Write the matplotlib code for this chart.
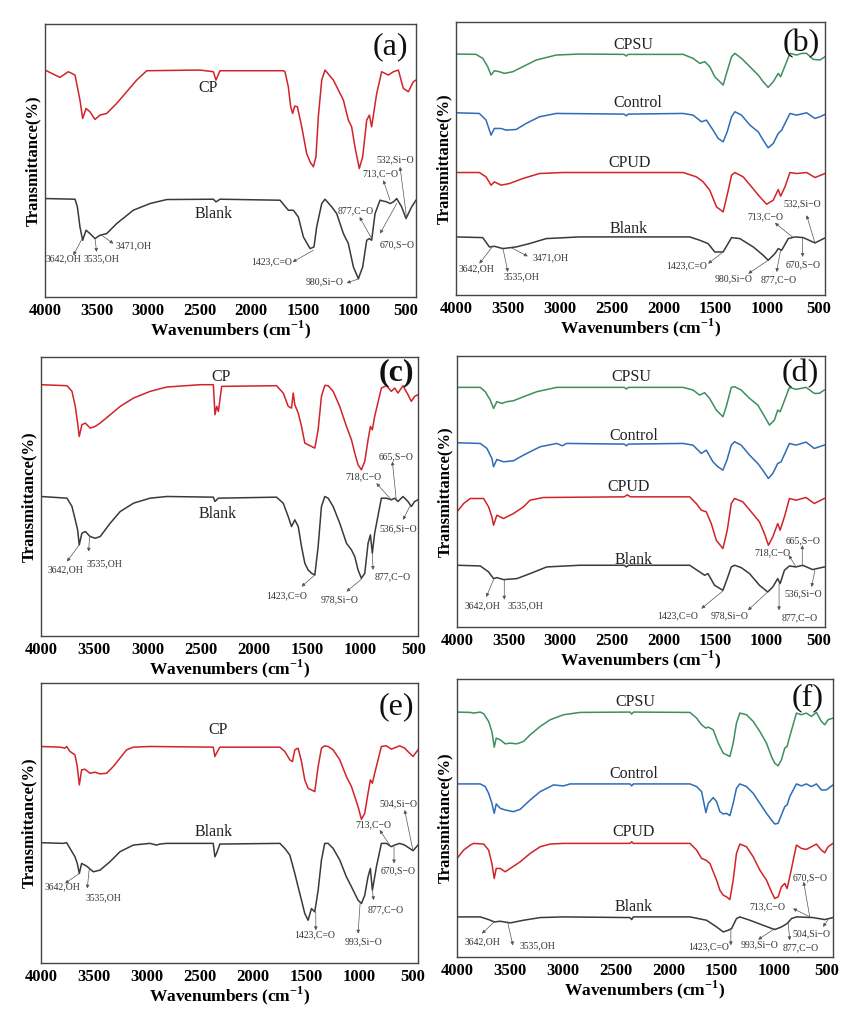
import matplotlib
matplotlib.use('Agg')
import matplotlib.pyplot as plt

plt.rcParams['font.family'] = ['Liberation Serif', 'DejaVu Serif']
plt.rcParams['mathtext.fontset'] = 'custom'
plt.rcParams['mathtext.rm'] = 'Liberation Serif'
plt.rcParams['mathtext.bf'] = 'Liberation Serif:bold'

RED = '#d1232a'
GREEN = '#3d8f5f'
BLUE = '#2e6cb8'
BLACK = '#3a3a3a'

XTICKS = [4000, 3500, 3000, 2500, 2000, 1500, 1000, 500]

# ---------------- (a) ----------------
A_CP = [(4000, 79.0), (3855, 76.8), (3774, 78.5), (3709, 77.5), (3661, 70.0), (3635, 64.5), (3602, 67.5),
        (3564, 66.5), (3515, 64.2), (3467, 65.5), (3402, 66.0), (3305, 69.0), (3208, 72.5), (3111, 76.0),
        (3014, 78.8), (2497, 79.0), (2368, 78.5), (2342, 76.0), (2303, 78.8), (1689, 78.8), (1673, 78.5),
        (1641, 74.0), (1618, 68.0), (1599, 66.0), (1579, 68.2), (1553, 68.0), (1511, 62.0), (1463, 54.0),
        (1430, 51.5), (1398, 50.0), (1373, 53.0), (1350, 65.0), (1317, 76.0), (1285, 79.0), (1204, 76.0),
        (1107, 70.0), (1059, 64.0), (1027, 62.0), (995, 56.0), (953, 49.5), (920, 53.0), (881, 64.0),
        (855, 65.5), (833, 62.0), (784, 72.0), (736, 78.5), (671, 77.5), (622, 78.5), (574, 79.0),
        (526, 73.5), (477, 72.5), (429, 75.5), (403, 76.0)]
A_BLANK = [(4000, 40.5), (3709, 40.3), (3686, 38.0), (3661, 32.0), (3635, 28.0), (3602, 31.0), (3564, 30.0),
           (3515, 28.5), (3467, 29.5), (3402, 30.0), (3305, 33.0), (3144, 37.0), (2982, 39.0), (2820, 40.2),
           (2368, 40.3), (2342, 39.5), (2303, 40.3), (1721, 40.0), (1641, 37.0), (1592, 37.0), (1544, 35.0),
           (1495, 29.0), (1430, 25.5), (1392, 26.0), (1366, 32.0), (1317, 39.0), (1285, 40.3), (1220, 38.0),
           (1172, 36.0), (1107, 30.0), (1059, 27.0), (1010, 20.0), (962, 16.5), (920, 20.0), (881, 28.0),
           (855, 28.5), (833, 28.0), (800, 36.0), (752, 40.0), (687, 39.5), (655, 39.0), (622, 39.5),
           (590, 40.5), (542, 38.0), (500, 34.5), (445, 38.0), (403, 40.0)]
A_NOTES = [('3642,OH', (3816, 22.5), (3645, 28.2), (3725, 23.5)),
           ('3535,OH', (3450, 22.5), (3515, 28.5), (3500, 24.5)),
           ('3471,OH', (3137, 26.3), (3450, 29.5), (3337, 27.0)),
           ('1423,C=O', (1805, 21.7), (1398, 25.0), (1599, 21.5)),
           ('980,Si\u2212O', (1285, 15.5), (952, 16.5), (1075, 15.2)),
           ('877,C\u2212O', (984, 36.8), (833, 28.5), (950, 35.0)),
           ('713,C\u2212O', (752, 48.0), (655, 40.0), (720, 46.0)),
           ('532,Si\u2212O', (606, 52.0), (493, 34.5), (558, 50.0)),
           ('670,S\u2212O', (590, 26.7), (590, 39.0), (752, 30.0))]

# ---------------- (b) ----------------
B_CPSU = [(4000, 83.8), (3807, 83.7), (3742, 82.5), (3694, 80.0), (3662, 77.5), (3630, 78.8), (3581, 78.5),
          (3533, 78.0), (3453, 78.5), (3356, 80.0), (3227, 82.0), (3034, 83.5), (2809, 83.8), (2380, 83.7),
          (2358, 83.2), (2340, 83.7), (1810, 83.7), (1714, 82.5), (1649, 81.0), (1601, 81.5), (1553, 80.0),
          (1505, 77.0), (1456, 75.5), (1424, 74.5), (1392, 78.0), (1343, 83.0), (1311, 84.0), (1247, 82.5),
          (1166, 80.0), (1086, 77.5), (1038, 75.5), (990, 73.8), (941, 75.5), (893, 78.0), (870, 77.0),
          (844, 79.0), (780, 84.0), (716, 83.5), (667, 84.0), (619, 84.0), (555, 82.2), (491, 82.0), (442, 83.0)]
B_CONTROL = [(4000, 66.2), (3775, 66.0), (3710, 64.0), (3662, 59.5), (3630, 61.5), (3565, 61.5), (3517, 61.0),
             (3420, 61.2), (3324, 63.0), (3195, 65.0), (3034, 66.0), (2380, 65.8), (2358, 65.3), (2340, 65.8),
             (1810, 66.0), (1714, 65.5), (1633, 63.5), (1585, 64.0), (1521, 61.0), (1472, 58.5), (1424, 57.5),
             (1385, 60.5), (1343, 65.0), (1311, 66.5), (1247, 65.5), (1166, 62.5), (1086, 60.5), (1038, 58.0),
             (990, 55.7), (941, 57.0), (893, 60.0), (860, 61.0), (828, 63.0), (780, 66.0), (716, 65.5),
             (619, 66.2), (539, 64.5), (491, 65.0), (442, 65.7)]
B_CPUD = [(4000, 48.3), (3775, 48.3), (3710, 47.0), (3662, 44.5), (3630, 45.5), (3565, 44.5), (3485, 45.0),
          (3356, 46.5), (3195, 48.0), (2970, 48.3), (1810, 48.3), (1682, 47.0), (1617, 45.5), (1553, 43.0),
          (1488, 38.0), (1424, 36.5), (1382, 42.0), (1343, 47.5), (1311, 48.3), (1231, 47.0), (1150, 44.0),
          (1070, 41.0), (1005, 38.8), (941, 40.0), (893, 43.2), (870, 41.2), (828, 44.0), (780, 48.3),
          (716, 48.0), (619, 48.3), (539, 46.8), (442, 48.0)]
B_BLANK = [(4000, 29.0), (3742, 28.8), (3678, 26.0), (3630, 26.2), (3549, 25.5), (3420, 26.0), (3292, 27.0),
           (3131, 28.5), (2809, 29.0), (1746, 29.0), (1649, 28.0), (1569, 27.0), (1505, 24.5), (1424, 24.5),
           (1343, 28.8), (1263, 28.5), (1134, 26.0), (1038, 23.5), (990, 22.0), (925, 24.0), (893, 25.5),
           (860, 25.0), (796, 28.5), (731, 29.0), (651, 28.8), (539, 27.2), (442, 28.7)]
B_NOTES = [('3642,OH', (3800, 19.5), (3646, 26.2), (3775, 21.0)),
           ('3535,OH', (3372, 17.2), (3549, 25.8), (3500, 18.5)),
           ('3471,OH', (3092, 22.7), (3469, 25.8), (3308, 23.2)),
           ('1423,C=O', (1772, 20.5), (1424, 24.5), (1569, 21.0)),
           ('980,Si\u2212O', (1321, 16.5), (990, 22.0), (1182, 18.0)),
           ('877,C\u2212O', (893, 16.2), (870, 25.0), (909, 18.5)),
           ('670,S\u2212O', (651, 20.7), (658, 28.8), (658, 23.0)),
           ('713,C\u2212O', (1015, 35.0), (748, 28.8), (925, 33.2)),
           ('532,Si\u2212O', (661, 38.8), (539, 27.2), (619, 35.5))]

# ---------------- (c) ----------------
C_CP = [(4000, 83.5), (3756, 83.2), (3709, 81.5), (3678, 77.0), (3656, 72.0), (3641, 68.0), (3616, 71.5),
        (3584, 72.0), (3538, 70.5), (3491, 71.0), (3444, 72.0), (3350, 74.5), (3256, 77.0), (3131, 79.5),
        (2975, 81.5), (2819, 82.8), (2506, 83.5), (2381, 83.5), (2366, 74.5), (2350, 77.0), (2334, 75.5),
        (2303, 83.0), (1788, 83.2), (1725, 81.0), (1678, 77.0), (1647, 76.5), (1631, 81.0), (1616, 77.5),
        (1584, 75.0), (1553, 71.0), (1522, 66.0), (1491, 65.5), (1459, 65.0), (1428, 64.5), (1397, 70.0),
        (1366, 80.0), (1334, 83.3), (1303, 83.2), (1256, 81.5), (1194, 77.0), (1131, 71.0), (1084, 67.0),
        (1053, 63.0), (1022, 59.5), (991, 58.0), (959, 60.5), (928, 67.0), (906, 71.0), (888, 70.0),
        (866, 74.0), (803, 82.5), (756, 83.2), (709, 81.5), (678, 82.5), (647, 81.0), (600, 83.2),
        (553, 80.5), (522, 78.5), (491, 80.0), (459, 80.5)]
C_BLANK = [(4000, 50.0), (3756, 49.5), (3709, 47.0), (3678, 43.0), (3656, 40.0), (3641, 35.5), (3616, 39.0),
           (3584, 39.5), (3538, 38.0), (3491, 37.5), (3444, 38.0), (3350, 42.0), (3256, 45.5), (3131, 48.0),
           (2975, 49.5), (2819, 50.0), (2381, 49.8), (2366, 48.5), (2334, 49.5), (1788, 49.8), (1725, 48.0),
           (1678, 44.0), (1647, 41.0), (1616, 43.0), (1584, 41.0), (1553, 35.0), (1522, 30.0), (1491, 28.0),
           (1459, 27.0), (1428, 26.5), (1397, 35.0), (1366, 47.0), (1334, 50.0), (1303, 49.5), (1256, 47.0),
           (1194, 42.0), (1131, 36.0), (1084, 34.0), (1053, 32.0), (1022, 28.0), (991, 25.5), (959, 27.0),
           (928, 36.0), (906, 38.5), (888, 33.0), (866, 39.0), (803, 49.5), (756, 49.5), (709, 49.0),
           (678, 49.5), (647, 48.5), (600, 50.0), (553, 48.5), (522, 47.0), (491, 48.5), (459, 49.0)]
C_NOTES = [('3642,OH', (3772, 28.0), (3641, 35.5), (3756, 30.5)),
           ('3535,OH', (3406, 29.8), (3544, 37.8), (3553, 33.5)),
           ('1423,C=O', (1694, 20.2), (1428, 26.5), (1553, 23.0)),
           ('978,Si\u2212O', (1194, 19.2), (991, 25.2), (1131, 21.5)),
           ('877,C\u2212O', (700, 25.8), (888, 33.0), (881, 28.0)),
           ('718,C\u2212O', (975, 56.0), (709, 49.0), (850, 54.0)),
           ('665,S\u2212O', (663, 62.0), (663, 49.0), (700, 60.5)),
           ('536,Si\u2212O', (647, 40.2), (537, 47.0), (600, 43.0))]

# ---------------- (d) ----------------
D_CPSU = [(4000, 82.8), (3775, 82.8), (3726, 81.5), (3678, 79.0), (3646, 76.5), (3614, 78.5), (3565, 78.0),
          (3517, 78.5), (3453, 78.8), (3356, 80.0), (3227, 81.5), (3034, 82.8), (2380, 82.8), (2358, 82.3),
          (2340, 82.8), (1810, 82.8), (1714, 82.0), (1649, 80.5), (1601, 81.2), (1553, 79.5), (1488, 76.0),
          (1424, 74.0), (1392, 77.0), (1343, 82.8), (1311, 83.0), (1247, 82.0), (1166, 79.5), (1086, 77.5),
          (1038, 75.0), (973, 71.5), (925, 73.0), (893, 76.0), (870, 75.5), (844, 77.5), (780, 82.8),
          (716, 82.2), (619, 82.8), (539, 81.0), (491, 81.0), (442, 82.0)]
D_CONTROL = [(4000, 66.2), (3775, 66.0), (3710, 64.5), (3662, 61.5), (3646, 59.0), (3614, 61.2), (3549, 60.5),
             (3453, 60.8), (3356, 62.5), (3195, 65.0), (3034, 66.0), (2980, 65.3), (2940, 66.0), (2380, 65.8),
             (2358, 65.3), (2340, 65.8), (1810, 66.0), (1714, 65.5), (1633, 63.0), (1585, 64.0), (1521, 60.5),
             (1472, 59.0), (1424, 58.0), (1385, 61.0), (1343, 65.5), (1311, 66.5), (1247, 65.5), (1166, 62.5),
             (1086, 60.0), (1038, 58.0), (983, 55.5), (941, 57.0), (893, 60.0), (860, 60.5), (780, 66.0),
             (716, 65.5), (619, 66.4), (539, 64.5), (491, 65.0), (442, 65.5)]
D_CPUD = [(4000, 45.5), (3936, 48.0), (3871, 49.5), (3742, 49.5), (3694, 47.0), (3662, 44.0), (3646, 41.5),
          (3614, 44.5), (3549, 43.5), (3453, 45.0), (3356, 47.0), (3292, 49.0), (3163, 49.8), (2380, 50.0),
          (2350, 50.6), (2320, 50.0), (1746, 50.0), (1682, 48.0), (1633, 46.0), (1585, 45.5), (1537, 42.0),
          (1488, 37.0), (1424, 34.5), (1382, 40.0), (1343, 48.0), (1311, 49.5), (1231, 48.5), (1150, 45.5),
          (1070, 42.5), (1022, 39.0), (983, 35.5), (941, 38.0), (893, 42.0), (870, 40.0), (828, 44.0),
          (780, 49.5), (716, 49.0), (619, 49.8), (539, 48.0), (442, 49.5)]
D_BLANK = [(4000, 29.5), (3775, 29.3), (3694, 27.5), (3646, 25.5), (3614, 25.8), (3549, 25.2), (3420, 25.5),
           (3292, 27.0), (3131, 29.0), (2809, 29.5), (2380, 29.5), (2358, 29.0), (2340, 29.5), (1746, 29.5),
           (1649, 27.5), (1601, 26.5), (1569, 27.0), (1505, 23.5), (1424, 22.0), (1382, 25.5), (1343, 29.0),
           (1311, 29.5), (1247, 28.8), (1166, 27.0), (1070, 23.5), (990, 21.5), (941, 23.0), (893, 25.5),
           (870, 24.0), (828, 28.0), (780, 29.3), (716, 29.0), (651, 29.5), (555, 28.2), (442, 29.0)]
D_NOTES = [('3642,OH', (3752, 17.5), (3646, 25.2), (3716, 20.0)),
           ('3535,OH', (3339, 17.5), (3542, 25.2), (3542, 19.2)),
           ('1423,C=O', (1865, 14.5), (1424, 21.8), (1633, 16.5)),
           ('978,Si\u2212O', (1355, 14.5), (990, 21.5), (1182, 16.0)),
           ('877,C\u2212O', (677, 13.8), (880, 24.0), (880, 16.0)),
           ('718,C\u2212O', (945, 33.2), (716, 29.0), (786, 32.5)),
           ('665,S\u2212O', (649, 36.7), (655, 29.2), (655, 35.5)),
           ('536,Si\u2212O', (643, 21.0), (533, 28.0), (565, 23.0))]

# ---------------- (e) ----------------
E_CP = [(4000, 74.0), (3821, 73.8), (3774, 73.5), (3758, 74.0), (3727, 72.5), (3680, 71.5), (3658, 68.0),
        (3639, 62.5), (3617, 67.0), (3586, 67.2), (3539, 66.0), (3491, 66.3), (3444, 65.8), (3381, 66.0),
        (3319, 68.0), (3256, 70.5), (3193, 73.0), (3130, 73.8), (2974, 74.0), (2377, 73.8), (2361, 71.0),
        (2346, 72.0), (2314, 73.8), (1749, 73.8), (1702, 72.5), (1655, 70.0), (1630, 69.5), (1608, 73.0),
        (1577, 73.5), (1545, 69.5), (1514, 64.0), (1483, 61.5), (1451, 61.0), (1420, 60.5), (1388, 68.0),
        (1357, 73.5), (1326, 74.2), (1294, 74.0), (1247, 73.0), (1184, 70.0), (1122, 65.0), (1074, 62.0),
        (1043, 59.0), (1012, 56.0), (980, 52.2), (949, 54.0), (918, 60.0), (896, 64.0), (877, 63.0),
        (855, 66.0), (792, 74.0), (745, 74.2), (698, 73.2), (667, 73.6), (620, 74.2), (573, 73.5),
        (526, 72.0), (494, 71.0), (447, 73.0)]
E_BLANK = [(4000, 45.2), (3790, 45.0), (3758, 45.2), (3727, 43.5), (3680, 41.0), (3658, 39.0), (3639, 36.0),
           (3617, 39.0), (3570, 38.2), (3507, 36.5), (3444, 37.0), (3350, 39.5), (3256, 42.5), (3130, 44.5),
           (2974, 45.0), (2911, 44.5), (2879, 44.8), (2817, 45.0), (2377, 45.0), (2361, 41.0), (2346, 42.0),
           (2314, 44.8), (1749, 45.0), (1702, 43.5), (1655, 41.5), (1608, 36.0), (1577, 32.0), (1545, 28.0),
           (1514, 24.0), (1483, 22.0), (1451, 25.5), (1420, 24.5), (1388, 31.0), (1357, 40.0), (1326, 45.0),
           (1294, 45.0), (1247, 43.5), (1184, 40.0), (1122, 35.0), (1074, 32.0), (1043, 30.0), (1012, 28.0),
           (980, 27.0), (949, 29.5), (918, 35.0), (896, 37.5), (877, 31.0), (855, 35.0), (839, 38.0),
           (792, 45.0), (745, 45.0), (698, 44.0), (667, 44.5), (620, 45.0), (573, 44.5), (526, 43.5),
           (494, 42.8), (447, 44.5)]
E_NOTES = [('3642,OH', (3796, 32.0), (3639, 36.0), (3774, 33.0)),
           ('3535,OH', (3407, 28.8), (3545, 37.5), (3564, 31.5)),
           ('1423,C=O', (1420, 17.5), (1410, 24.5), (1410, 19.0)),
           ('993,Si\u2212O', (965, 15.7), (993, 27.0), (1012, 18.0)),
           ('877,C\u2212O', (751, 25.2), (877, 31.0), (865, 28.0)),
           ('670,S\u2212O', (635, 36.7), (673, 44.0), (673, 39.0)),
           ('713,C\u2212O', (870, 50.5), (714, 44.5), (808, 49.0)),
           ('504,Si\u2212O', (635, 56.8), (494, 42.8), (573, 55.0))]

# ---------------- (f) ----------------
F_CPSU = [(4000, 84.3), (3874, 84.2), (3843, 84.0), (3780, 84.3), (3748, 83.8), (3701, 81.5), (3670, 78.5),
          (3648, 73.8), (3629, 76.5), (3591, 76.0), (3544, 74.8), (3497, 75.0), (3434, 74.8), (3371, 75.5),
          (3308, 77.5), (3213, 80.0), (3119, 82.0), (2993, 83.5), (2836, 84.2), (2364, 84.3), (2348, 83.7),
          (2332, 84.3), (1797, 84.2), (1734, 82.5), (1687, 80.5), (1646, 79.5), (1624, 79.8), (1577, 79.0),
          (1529, 75.0), (1482, 72.0), (1451, 71.5), (1419, 71.0), (1388, 75.0), (1357, 81.0), (1325, 84.0),
          (1262, 83.5), (1199, 81.5), (1136, 78.5), (1073, 75.0), (1026, 71.0), (995, 69.0), (963, 68.2),
          (932, 70.0), (900, 73.5), (878, 74.0), (853, 77.0), (790, 84.0), (743, 83.5), (696, 84.0),
          (648, 83.0), (601, 84.2), (554, 81.5), (522, 80.5), (491, 82.0), (444, 82.5)]
F_CONTROL = [(4000, 62.8), (3780, 62.8), (3733, 62.0), (3701, 60.0), (3670, 57.0), (3648, 54.0), (3629, 56.8),
             (3591, 55.5), (3544, 55.0), (3465, 54.5), (3402, 55.2), (3308, 58.0), (3213, 60.5), (3087, 62.5),
             (2993, 62.2), (2930, 62.8), (2364, 62.8), (2348, 62.2), (2332, 62.8), (1797, 62.8), (1734, 62.0),
             (1687, 60.5), (1646, 54.2), (1624, 57.0), (1577, 58.7), (1545, 57.5), (1514, 54.5), (1482, 53.8),
             (1451, 54.0), (1419, 53.3), (1388, 57.0), (1357, 61.5), (1325, 62.8), (1262, 62.0), (1199, 60.0),
             (1136, 57.0), (1073, 54.0), (1026, 52.0), (995, 50.8), (963, 51.0), (932, 53.5), (900, 56.0),
             (878, 56.5), (853, 59.0), (790, 62.8), (743, 62.2), (696, 62.8), (648, 62.0), (601, 62.8),
             (554, 61.0), (507, 61.0), (444, 62.5)]
F_CPUD = [(4000, 40.5), (3937, 43.0), (3874, 44.5), (3843, 45.0), (3748, 44.8), (3701, 43.0), (3670, 39.0),
          (3648, 34.5), (3629, 37.5), (3591, 37.5), (3544, 36.5), (3497, 37.5), (3402, 39.5), (3308, 42.0),
          (3213, 44.0), (3119, 44.8), (2993, 45.0), (2364, 45.0), (2348, 45.5), (2332, 45.0), (1797, 45.0),
          (1734, 43.0), (1687, 40.5), (1646, 40.0), (1608, 39.0), (1545, 34.0), (1514, 31.0), (1482, 29.5),
          (1451, 29.0), (1419, 28.2), (1388, 34.0), (1357, 42.0), (1325, 44.8), (1262, 44.0), (1199, 41.0),
          (1136, 37.0), (1073, 34.0), (1026, 30.5), (995, 28.5), (963, 29.0), (932, 32.0), (900, 33.0),
          (878, 31.5), (853, 35.0), (790, 44.5), (743, 43.5), (696, 43.2), (648, 44.0), (601, 44.8),
          (554, 43.0), (522, 42.2), (491, 44.0), (444, 45.0)]
F_BLANK = [(4000, 23.0), (3780, 23.0), (3701, 22.2), (3648, 21.5), (3591, 21.7), (3497, 21.2), (3371, 22.0),
           (3213, 22.8), (2993, 23.0), (2364, 22.8), (2348, 22.2), (2332, 23.0), (1797, 23.0), (1640, 22.0),
           (1545, 20.0), (1482, 18.5), (1435, 19.0), (1403, 19.5), (1357, 22.5), (1325, 23.0), (1230, 22.0),
           (1105, 20.5), (995, 19.2), (932, 20.0), (878, 21.0), (837, 22.5), (790, 23.0), (633, 22.8),
           (522, 22.2), (444, 22.8)]
F_NOTES = [('3642,OH', (3758, 15.5), (3648, 21.5), (3764, 18.0)),
           ('3535,OH', (3238, 14.5), (3522, 21.5), (3471, 14.5)),
           ('1423,C=O', (1618, 14.0), (1410, 19.5), (1410, 14.5)),
           ('993,Si\u2212O', (1136, 14.8), (995, 19.5), (1152, 16.2)),
           ('877,C\u2212O', (752, 13.8), (869, 21.5), (853, 16.0)),
           ('504,Si\u2212O', (648, 18.0), (491, 22.2), (538, 20.0)),
           ('713,C\u2212O', (1067, 26.0), (661, 23.0), (822, 25.5)),
           ('670,S\u2212O', (664, 34.8), (664, 23.0), (722, 33.5))]

# ---------------- layout ----------------
W, H = 861, 1017
PANELS = [
    dict(tag='(a)', box=(45, 24, 416, 297), xr=403, yl=(11.0, 92.8), tagpos=(655, 86), bold=False,
         series=[(A_CP, RED, 'CP', (2423, 73.5)), (A_BLANK, BLACK, 'Blank', (2361, 36.0))], notes=A_NOTES),
    dict(tag='(b)', box=(456, 22, 825, 295), xr=442, yl=(11.6, 93.4), tagpos=(667, 87), bold=False,
         series=[(B_CPSU, GREEN, 'CPSU', (2287, 86.5)), (B_CONTROL, BLUE, 'Control', (2245, 69.0)),
                 (B_CPUD, RED, 'CPUD', (2326, 51.2)), (B_BLANK, BLACK, 'Blank', (2335, 31.5))], notes=B_NOTES),
    dict(tag='(c)', box=(41, 357, 418, 636), xr=459, yl=(8.2, 91.8), tagpos=(663, 87), bold=True,
         series=[(C_CP, RED, 'CP', (2309, 85.7)), (C_BLANK, BLACK, 'Blank', (2344, 44.7))], notes=C_NOTES),
    dict(tag='(d)', box=(457, 356, 825, 627), xr=435, yl=(11.0, 92.2), tagpos=(677, 87), bold=False,
         series=[(D_CPSU, GREEN, 'CPSU', (2307, 86.0)), (D_CONTROL, BLUE, 'Control', (2291, 68.2)),
                 (D_CPUD, RED, 'CPUD', (2339, 53.0)), (D_BLANK, BLACK, 'Blank', (2291, 31.2))], notes=D_NOTES),
    dict(tag='(e)', box=(41, 683, 418, 963), xr=447, yl=(9.2, 93.0), tagpos=(650, 86), bold=False,
         series=[(E_CP, RED, 'CP', (2330, 78.8)), (E_BLANK, BLACK, 'Blank', (2377, 48.3))], notes=E_NOTES),
    dict(tag='(f)', box=(457, 679, 833, 957), xr=444, yl=(11.0, 94.2), tagpos=(680, 88.5), bold=False,
         series=[(F_CPSU, GREEN, 'CPSU', (2310, 87.2)), (F_CONTROL, BLUE, 'Control', (2332, 65.8)),
                 (F_CPUD, RED, 'CPUD', (2332, 48.5)), (F_BLANK, BLACK, 'Blank', (2332, 26.0))], notes=F_NOTES),
]

fig = plt.figure(figsize=(W / 100, H / 100), dpi=100)
fig.patch.set_facecolor('white')

for p in PANELS:
    l, t, r, b = p['box']
    ax = fig.add_axes([l / W, 1 - b / H, (r - l) / W, (b - t) / H])
    for data, col, name, lp in p['series']:
        xs = [d[0] for d in data]
        ys = [d[1] for d in data]
        ax.plot(xs, ys, color=col, lw=1.1, solid_joinstyle='round')
        ax.text(lp[0], lp[1], name, ha='center', va='center', fontsize=11.5, color='#222')
    for txt, tp, pk, hd in p['notes']:
        ax.text(tp[0], tp[1], txt, ha='center', va='center', fontsize=7, color='#333')
        ax.annotate('', xy=hd, xytext=pk,
                    arrowprops=dict(arrowstyle='-|>', color='#555', lw=0.5,
                                    mutation_scale=5, shrinkA=0, shrinkB=0))
    ax.text(p['tagpos'][0], p['tagpos'][1], p['tag'], ha='center', va='center', fontsize=23,
            fontweight='bold' if p['bold'] else 'normal', color='#111')
    ax.set_xlim(4000, p['xr'])
    ax.set_ylim(*p['yl'])
    ax.set_xticks(XTICKS)
    ax.set_xticklabels([str(v) for v in XTICKS], fontsize=12, fontweight='bold')
    ax.tick_params(axis='x', length=0, pad=4)
    ax.set_yticks([])
    ax.set_xlabel('Wavenumbers (cm$^{\\mathbf{-1}}$)', fontsize=12.5, fontweight='bold', labelpad=0)
    ax.set_ylabel('Transmittance(%)', fontsize=12, fontweight='bold', labelpad=3)
    for s in ax.spines.values():
        s.set_color('#444')
        s.set_linewidth(1.0)

fig.savefig('out.png', dpi=100)
